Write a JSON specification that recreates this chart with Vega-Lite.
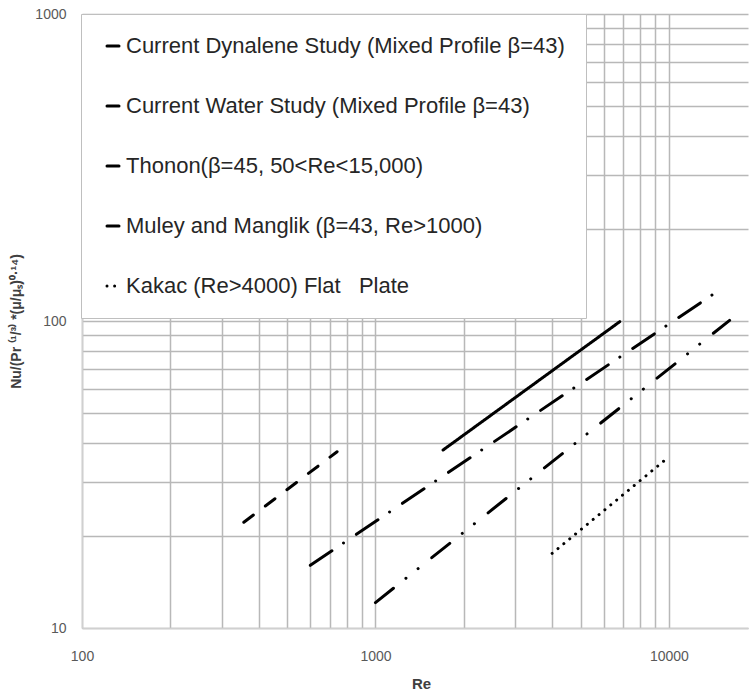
{
  "$schema": "https://vega.github.io/schema/vega-lite/v6.json",
  "autosize": {"type": "none"},
  "width": 666,
  "height": 614,
  "padding": {"left": 82, "top": 14, "right": 1, "bottom": 63},
  "background": "white",
  "config": {
    "view": {"stroke": null},
    "font": "Liberation Sans"
  },
  "data": {
    "values": [
      {"series": "Current Dynalene Study (Mixed Profile β=43)", "Re": 356, "Nu": 22.1},
      {"series": "Current Dynalene Study (Mixed Profile β=43)", "Re": 740, "Nu": 37.5},
      {"series": "Current Water Study (Mixed Profile β=43)", "Re": 1700, "Nu": 38},
      {"series": "Current Water Study (Mixed Profile β=43)", "Re": 6800, "Nu": 99.5},
      {"series": "Thonon(β=45, 50<Re<15,000)", "Re": 600, "Nu": 16},
      {"series": "Thonon(β=45, 50<Re<15,000)", "Re": 14750, "Nu": 125.5},
      {"series": "Muley and Manglik (β=43, Re>1000)", "Re": 1000, "Nu": 12.1},
      {"series": "Muley and Manglik (β=43, Re>1000)", "Re": 16100, "Nu": 100.5},
      {"series": "Kakac (Re>4000) Flat\u00a0\u00a0\u00a0Plate", "Re": 4000, "Nu": 17.5},
      {"series": "Kakac (Re>4000) Flat\u00a0\u00a0\u00a0Plate", "Re": 10000, "Nu": 36.1}
    ]
  },
  "mark": {"type": "line", "color": "black", "strokeWidth": 3, "strokeCap": "round", "clip": true},
  "encoding": {
    "x": {
      "field": "Re", "type": "quantitative",
      "scale": {"type": "log", "domain": [100, 18600], "nice": false},
      "axis": {
        "title": "Re",
        "titleFont": "Liberation Sans", "titleFontSize": 15, "titleFontWeight": "bold", "titleColor": "#404040",
        "titleX": 339, "titleY": 55, "titleBaseline": "middle", "titleAlign": "center",
        "values": [100, 200, 300, 400, 500, 600, 700, 800, 900, 1000, 2000, 3000, 4000, 5000, 6000, 7000, 8000, 9000, 10000],
        "format": "d",
        "labelExpr": "datum.value == 100 || datum.value == 1000 || datum.value == 10000 ? datum.label : ''",
        "labelFlush": false, "labelOverlap": false,
        "labelFontSize": 14, "labelColor": "#595959", "labelPadding": 21,
        "ticks": false,
        "grid": true, "gridColor": "#b8b8b8", "gridWidth": 1.5,
        "domainColor": "#d0d0d0", "domainWidth": 1.5
      }
    },
    "y": {
      "field": "Nu", "type": "quantitative",
      "scale": {"type": "log", "domain": [10, 1000], "nice": false},
      "axis": {
        "title": "Nu/(Pr ⁽¹/³⁾ *(μ/μₛ)⁰·¹⁴)",
        "titleFont": "Liberation Sans", "titleFontSize": 14, "titleFontWeight": "bold", "titleColor": "#404040",
        "titleAngle": -90, "titleX": -66, "titleY": 307, "titleBaseline": "middle", "titleAlign": "center",
        "values": [10, 20, 30, 40, 50, 60, 70, 80, 90, 100, 200, 300, 400, 500, 600, 700, 800, 900, 1000],
        "format": "d",
        "labelExpr": "datum.value == 10 || datum.value == 100 || datum.value == 1000 ? datum.label : ''",
        "labelFlush": false, "labelOverlap": false,
        "labelFontSize": 14, "labelColor": "#595959", "labelPadding": 16,
        "ticks": false,
        "grid": true, "gridColor": "#b8b8b8", "gridWidth": 1.5,
        "domainColor": "#d0d0d0", "domainWidth": 1.5
      }
    },
    "strokeDash": {
      "field": "series", "type": "nominal",
      "scale": {
        "domain": [
          "Current Dynalene Study (Mixed Profile β=43)",
          "Current Water Study (Mixed Profile β=43)",
          "Thonon(β=45, 50<Re<15,000)",
          "Muley and Manglik (β=43, Re>1000)",
          "Kakac (Re>4000) Flat\u00a0\u00a0\u00a0Plate"
        ],
        "range": [[12, 15], [1, 0], [26, 14, 0.01, 15.5], [23, 16, 0.01, 15.5, 0.01, 17.5], [0.01, 7.6]]
      },
      "legend": {
        "title": null,
        "orient": "none", "legendX": -1, "legendY": 0,
        "direction": "vertical",
        "fillColor": "white", "strokeColor": "#bfbfbf",
        "padding": 21,
        "rowPadding": 38,
        "symbolType": "stroke", "symbolSize": 144, "symbolStrokeColor": "black", "symbolStrokeWidth": 3,
        "labelFont": "Liberation Sans", "labelFontSize": 22, "labelColor": "#262626", "labelLimit": 0, "labelOffset": 2,
        "encode": {"symbols": {"update": {"strokeCap": {"value": "round"}}}}
      }
    }
  }
}
